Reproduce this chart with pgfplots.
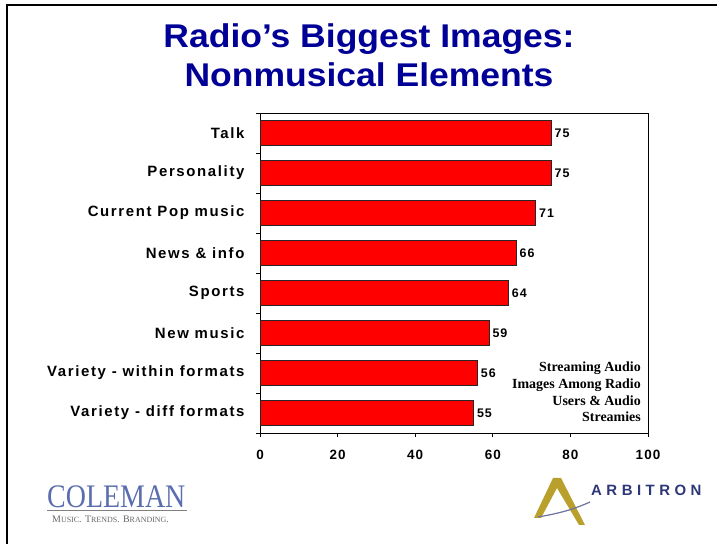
\documentclass[border=0pt]{standalone}
\usepackage{pgfplots}
\pgfplotsset{compat=1.18}
\usepackage{fontspec}
\setmainfont{Liberation Sans}
\newfontfamily\lblfont[LetterSpace=11]{Liberation Sans}
\newfontfamily\numfont[LetterSpace=8]{Liberation Sans}
\newfontfamily\arbfont[LetterSpace=30]{Liberation Sans}
\newfontfamily\serifb{Liberation Serif}
\definecolor{titleblue}{RGB}{0,0,150}
\definecolor{barred}{RGB}{255,0,0}
\definecolor{colemanblue}{RGB}{90,110,175}
\definecolor{arbgold}{RGB}{185,160,45}
\definecolor{arbblue}{RGB}{45,55,120}

\begin{document}
\begin{tikzpicture}
\useasboundingbox (0bp,0bp) rectangle (717bp,544bp);
% slide frame
\draw[line width=1.5bp] (7bp,0bp) -- (7bp,539bp) -- (717bp,539bp);

% title
\node[text=titleblue, anchor=base, inner sep=0] at (369bp,496bp)
  {\scalebox{1.08}[1]{\fontsize{33}{40}\selectfont\bfseries Radio’s Biggest Images:}};
\node[text=titleblue, anchor=base, inner sep=0] at (369bp,457bp)
  {\scalebox{1.08}[1]{\fontsize{33}{40}\selectfont\bfseries Nonmusical Elements}};

\begin{axis}[
  at={(260bp,111bp)}, anchor=south west,
  width=388bp, height=320bp, scale only axis,
  xbar, bar width=0.62,
  xmin=0, xmax=100, ymin=-0.5, ymax=7.5, y dir=reverse,
  xtick={0,20,...,100},
  ytick={-0.5,0.5,...,7.5},
  y tick label as interval,
  yticklabels={Talk,Personality,Current Pop music,News \& info,Sports,New music,Variety - within formats,Variety - diff formats},
  xtick pos=bottom, ytick pos=left,
  tick align=outside, major tick length=4bp,
  axis line style={black, line width=0.8bp},
  tick style={black, line width=0.8bp},
  xticklabel style={font=\numfont\bfseries\fontsize{13.5}{16}\selectfont, yshift=-10bp},
  yticklabel style={font=\lblfont\bfseries\fontsize{15}{18}\selectfont, xshift=-8bp},
  /pgf/number format/assume math mode=true,
  point meta=x,
  nodes near coords,
  nodes near coords style={font=\numfont\bfseries\fontsize{12.5}{14}\selectfont, anchor=west},
]
\addplot[fill=barred, draw=black!85, line width=0.6bp] coordinates {
(75,0) (75,1) (71,2) (66,3) (64,4) (59,5) (56,6) (55,7)};
\end{axis}

% note inside plot
\node[anchor=north east, align=right, inner sep=0, font=\serifb\bfseries\fontsize{14}{16.7}\selectfont] at (641bp,182bp)
  {Streaming Audio\\Images Among Radio\\Users \& Audio\\Streamies};

% Coleman logo
\node[anchor=base west, inner sep=0, text=colemanblue] at (47bp,37bp)
  {\scalebox{0.85}[1]{\serifb\fontsize{33}{33}\selectfont COLEMAN}};
\draw[gray, line width=1.2bp] (47bp,33.5bp) -- (187bp,33.5bp);
\node[anchor=base west, inner sep=0, text=black!60] at (52bp,22bp)
  {\serifb\fontsize{10}{10}\selectfont M\scalebox{0.8}{USIC}. T\scalebox{0.8}{RENDS}. B\scalebox{0.8}{RANDING}.};

% Arbitron logo
\fill[arbgold] (534bp,26bp) -- (553bp,66bp) -- (561bp,66bp) -- (585bp,19bp) -- (579bp,19bp) -- (557bp,56bp) -- (541bp,26bp) -- cycle;
\draw[arbblue!70, line width=1.2bp] (538bp,27bp) .. controls (555bp,30bp) and (570bp,33bp) .. (590bp,42bp);
\node[anchor=base west, inner sep=0, text=arbblue, font=\arbfont\bfseries\fontsize{15}{15}\selectfont] at (591bp,48bp) {ARBITRON};
\end{tikzpicture}
\end{document}
